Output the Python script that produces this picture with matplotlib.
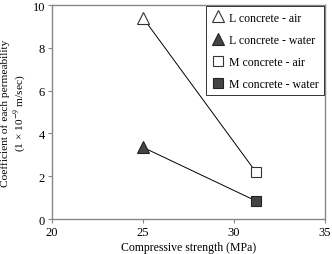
import matplotlib
matplotlib.use("Agg")
import matplotlib.pyplot as plt

plt.rcParams["font.family"] = ["Liberation Serif", "DejaVu Serif"]
plt.rcParams["mathtext.fontset"] = "stix"

# compressive strength (MPa) for L and M concrete
strength = [25.0, 31.2]
air = [9.4, 2.2]
water = [3.35, 0.85]

fig = plt.figure(figsize=(3.32, 2.55), dpi=100)
ax = fig.add_axes([0.157, 0.137, 0.822, 0.839])

ax.plot(strength, air, color="black", lw=0.7, zorder=1)
ax.plot(strength, water, color="black", lw=0.7, zorder=1)

ms = 8
ax.plot(strength[0], air[0], "^", ms=ms, mfc="white", mec="#333333", mew=0.8,
        ls="none", label="L concrete - air")
ax.plot(strength[0], water[0], "^", ms=ms, mfc="#444444", mec="#222222", mew=0.8,
        ls="none", label="L concrete - water")
ax.plot(strength[1], air[1], "s", ms=7, mfc="white", mec="#333333", mew=0.8,
        ls="none", label="M concrete - air")
ax.plot(strength[1], water[1], "s", ms=7, mfc="#444444", mec="#222222", mew=0.8,
        ls="none", label="M concrete - water")

ax.set_xlim(20, 35)
ax.set_ylim(0, 10)
ax.set_xticks([20, 25, 30, 35])
ax.set_yticks([0, 2, 4, 6, 8, 10])
ax.tick_params(labelsize=9, length=3, width=0.8, color="#888888", pad=2)
for s in ax.spines.values():
    s.set_color("#888888")
    s.set_linewidth(1.0)

ax.set_xlabel("Compressive strength (MPa)", fontsize=8.5, labelpad=2)
ax.set_ylabel("Coefficient of each permeability\n(1 \u00d7 10$^{-9}$ m/sec)",
              fontsize=8.2, linespacing=1.05)
ax.yaxis.set_label_coords(-0.09, 0.5)

leg = ax.legend(loc="upper right", fontsize=8.5, frameon=True, fancybox=False,
                borderaxespad=0.1, handletextpad=0.3, handlelength=1.2,
                labelspacing=0.85, borderpad=0.45)
leg.get_frame().set_edgecolor("black")
leg.get_frame().set_linewidth(0.7)

fig.savefig("out.png", dpi=100)
